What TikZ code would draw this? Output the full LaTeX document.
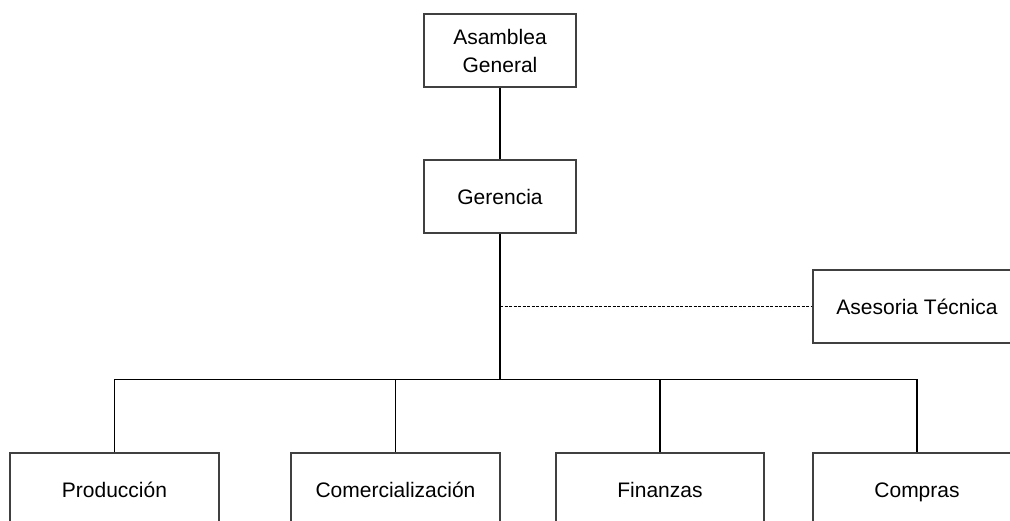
\documentclass[tikz,border=0pt]{standalone}
\usepackage{fontspec}
\setmainfont{Liberation Sans}
\begin{document}
\begin{tikzpicture}[x=1pt,y=-1pt,
  box/.style={draw=black!75,line width=1.1pt,fill=white,minimum width=#1,minimum height=73pt,inner sep=0pt,align=center,font=\fontsize{21}{28}\selectfont},
  box/.default=152pt,
  one/.style={text height=16.5pt,text depth=0pt},
  link/.style={draw=black,line width=1.1pt},
  staff/.style={draw=black,line width=1pt,dash pattern=on 3pt off 1.5pt}]
\useasboundingbox (0,0) rectangle (1010,521);
\clip (0,0) rectangle (1010,521);
\node[box] (asamblea) at (500,50.5) {Asamblea\\General};
\node[box,one] (gerencia) at (500,196.5) {Gerencia};
\node[box=208pt,one] (asesoria) at (917,306.5) {Asesoria Técnica};
\node[box=209pt,one] (produccion) at (114.5,489.5) {Producción};
\node[box=209pt,one] (comercial) at (395.5,489.5) {Comercialización};
\node[box=208pt,one] (finanzas) at (660,489.5) {Finanzas};
\node[box=208pt,one] (compras) at (917,489.5) {Compras};
\coordinate (bus) at (500,379.5);
\coordinate (staffpt) at (500,306.5);
\draw[link] (asamblea.south) -- (gerencia.north);
\draw[link] (gerencia.south) -- (bus);
\draw[staff] (staffpt) -- (asesoria.west);
\draw[link] (produccion.north) |- (bus) -| (compras.north);
\draw[link] (comercial.north) -- (comercial.north |- bus);
\draw[link] (finanzas.north) -- (finanzas.north |- bus);
\end{tikzpicture}
\end{document}
